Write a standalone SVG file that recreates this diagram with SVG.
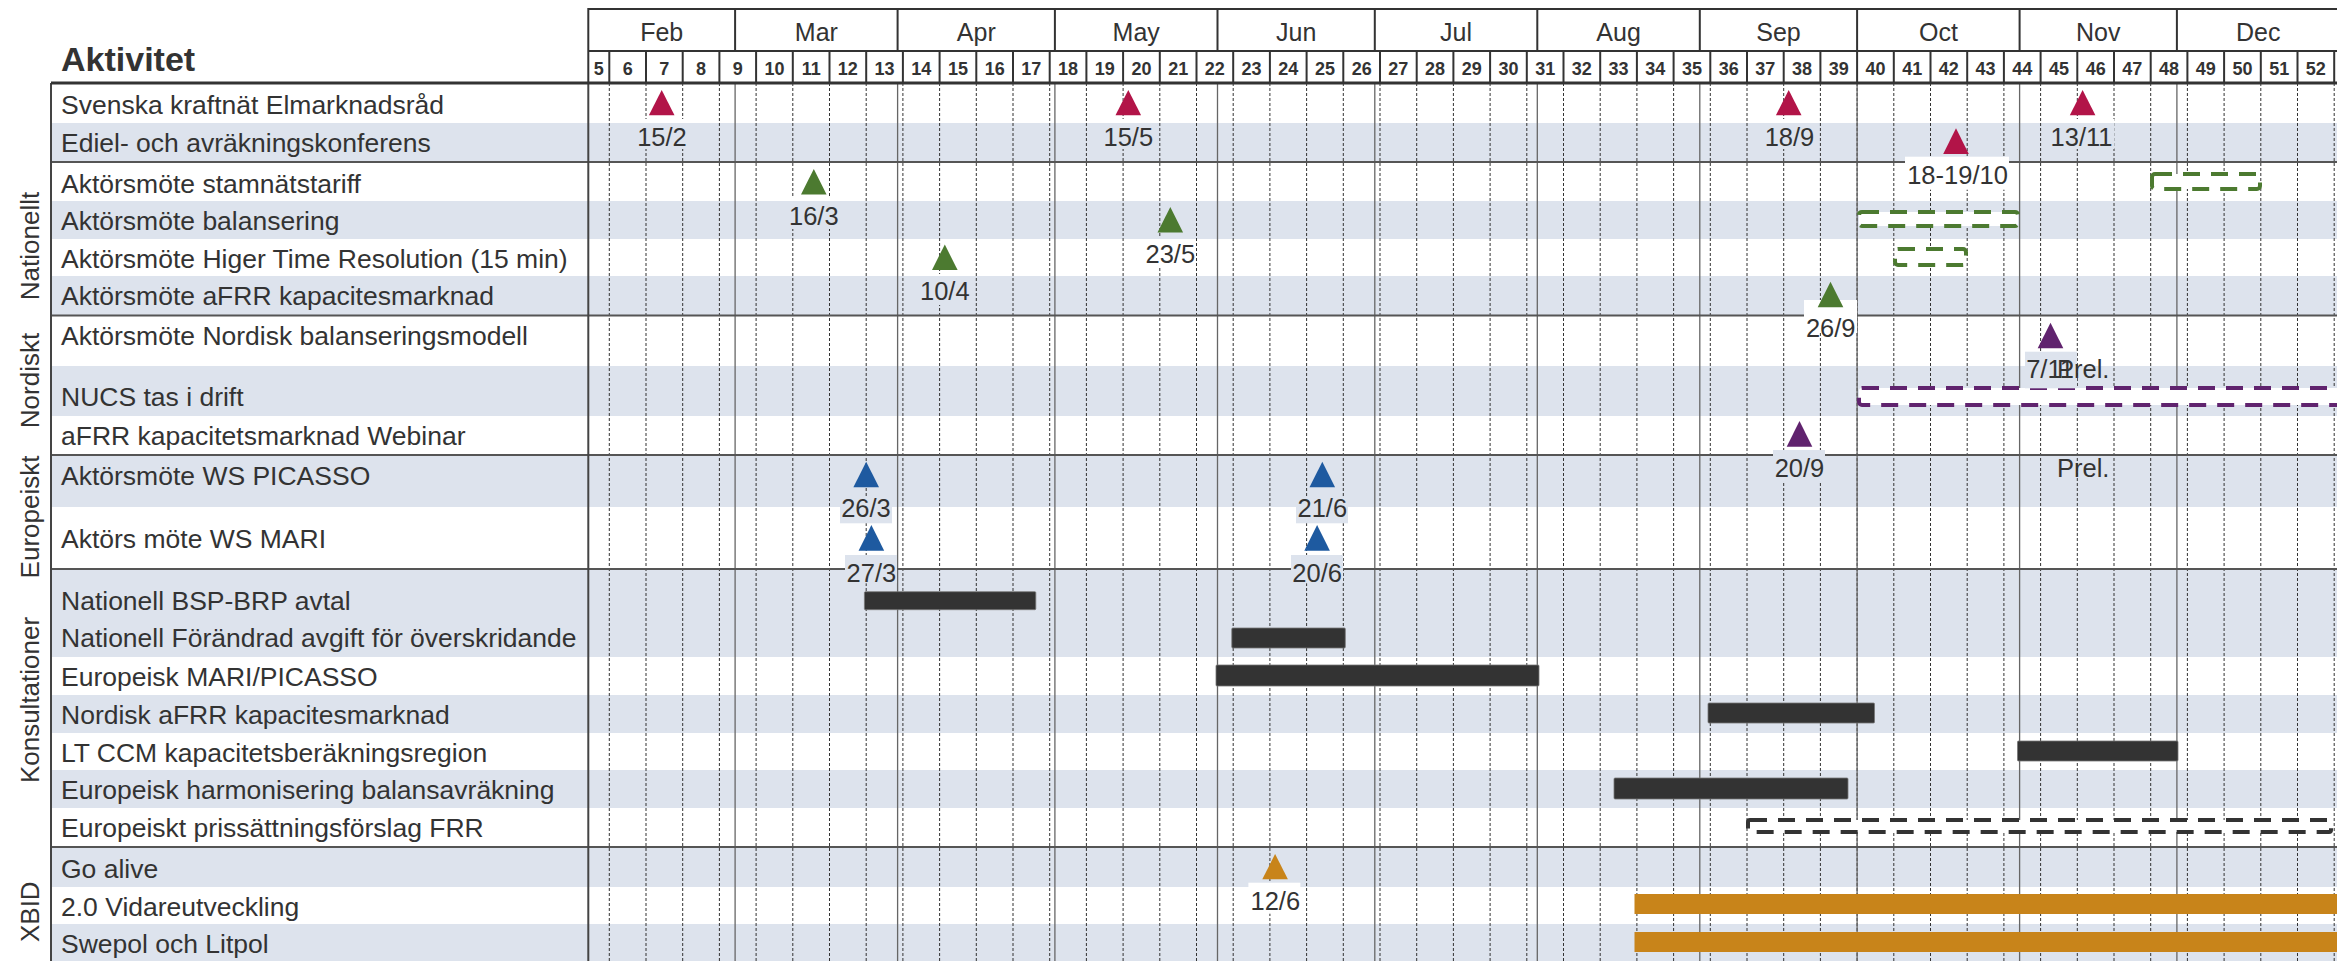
<svg xmlns="http://www.w3.org/2000/svg" width="2337" height="961" viewBox="0 0 2337 961">
<style>
text{font-family:"Liberation Sans",Arial,sans-serif;fill:#333}
.lbl{font-size:26.5px}
.cat{font-size:26px}
.mon{font-size:25px;text-anchor:middle}
.wk{font-size:18px;font-weight:bold;text-anchor:middle}
.dt{font-size:25.5px;text-anchor:middle}
.shade{fill:#dde3ed}
.wl{stroke:#333;stroke-width:1;stroke-dasharray:3 2}
.ml{stroke:#666;stroke-width:1.3}
.hl{stroke:#555;stroke-width:2}
.hb{stroke:#333;stroke-width:2;fill:none}
.bar{fill:#333;stroke:#777;stroke-width:0.8}
.obar{fill:#c8841a}
.dbox{fill:#fff;stroke-width:4;stroke-dasharray:17 11}
.red{fill:#b21448}.grn{fill:#4c7a30}.pur{fill:#60236e}.blu{fill:#1e5aa0}.org{fill:#c8841a}
.wb{fill:#fff}
</style>
<rect width="2337" height="961" fill="#fff"/>

<g id="row-shading">
<rect class="shade" x="51" y="123" width="2290" height="39"/>
<rect class="shade" x="51" y="201" width="2290" height="38"/>
<rect class="shade" x="51" y="276" width="2290" height="39"/>
<rect class="shade" x="51" y="366" width="2290" height="50"/>
<rect class="shade" x="51" y="455" width="2290" height="52"/>
<rect class="shade" x="51" y="569" width="2290" height="88"/>
<rect class="shade" x="51" y="695" width="2290" height="38"/>
<rect class="shade" x="51" y="770" width="2290" height="38"/>
<rect class="shade" x="51" y="847" width="2290" height="40"/>
<rect class="shade" x="51" y="924" width="2290" height="40"/>
</g>

<g id="week-gridlines">
<line class="wl" x1="609.3" y1="83" x2="609.3" y2="961"/><line class="wl" x1="646" y1="83" x2="646" y2="961"/><line class="wl" x1="682.7" y1="83" x2="682.7" y2="961"/><line class="wl" x1="719.4" y1="83" x2="719.4" y2="961"/><line class="wl" x1="756.1" y1="83" x2="756.1" y2="961"/><line class="wl" x1="792.8" y1="83" x2="792.8" y2="961"/><line class="wl" x1="829.5" y1="83" x2="829.5" y2="961"/><line class="wl" x1="866.2" y1="83" x2="866.2" y2="961"/><line class="wl" x1="902.9" y1="83" x2="902.9" y2="961"/><line class="wl" x1="939.6" y1="83" x2="939.6" y2="961"/><line class="wl" x1="976.3" y1="83" x2="976.3" y2="961"/><line class="wl" x1="1013" y1="83" x2="1013" y2="961"/><line class="wl" x1="1049.7" y1="83" x2="1049.7" y2="961"/><line class="wl" x1="1086.4" y1="83" x2="1086.4" y2="961"/><line class="wl" x1="1123.1" y1="83" x2="1123.1" y2="961"/><line class="wl" x1="1159.8" y1="83" x2="1159.8" y2="961"/><line class="wl" x1="1196.5" y1="83" x2="1196.5" y2="961"/><line class="wl" x1="1233.2" y1="83" x2="1233.2" y2="961"/><line class="wl" x1="1269.9" y1="83" x2="1269.9" y2="961"/><line class="wl" x1="1306.6" y1="83" x2="1306.6" y2="961"/><line class="wl" x1="1343.3" y1="83" x2="1343.3" y2="961"/><line class="wl" x1="1380" y1="83" x2="1380" y2="961"/><line class="wl" x1="1416.7" y1="83" x2="1416.7" y2="961"/><line class="wl" x1="1453.4" y1="83" x2="1453.4" y2="961"/><line class="wl" x1="1490.1" y1="83" x2="1490.1" y2="961"/><line class="wl" x1="1526.8" y1="83" x2="1526.8" y2="961"/><line class="wl" x1="1563.5" y1="83" x2="1563.5" y2="961"/><line class="wl" x1="1600.2" y1="83" x2="1600.2" y2="961"/><line class="wl" x1="1636.9" y1="83" x2="1636.9" y2="961"/><line class="wl" x1="1673.6" y1="83" x2="1673.6" y2="961"/><line class="wl" x1="1710.3" y1="83" x2="1710.3" y2="961"/><line class="wl" x1="1747" y1="83" x2="1747" y2="961"/><line class="wl" x1="1783.7" y1="83" x2="1783.7" y2="961"/><line class="wl" x1="1820.4" y1="83" x2="1820.4" y2="961"/><line class="wl" x1="1857.1" y1="83" x2="1857.1" y2="961"/><line class="wl" x1="1893.8" y1="83" x2="1893.8" y2="961"/><line class="wl" x1="1930.5" y1="83" x2="1930.5" y2="961"/><line class="wl" x1="1967.2" y1="83" x2="1967.2" y2="961"/><line class="wl" x1="2003.9" y1="83" x2="2003.9" y2="961"/><line class="wl" x1="2040.6" y1="83" x2="2040.6" y2="961"/><line class="wl" x1="2077.3" y1="83" x2="2077.3" y2="961"/><line class="wl" x1="2114" y1="83" x2="2114" y2="961"/><line class="wl" x1="2150.7" y1="83" x2="2150.7" y2="961"/><line class="wl" x1="2187.4" y1="83" x2="2187.4" y2="961"/><line class="wl" x1="2224.1" y1="83" x2="2224.1" y2="961"/><line class="wl" x1="2260.8" y1="83" x2="2260.8" y2="961"/><line class="wl" x1="2297.5" y1="83" x2="2297.5" y2="961"/><line class="wl" x1="2334.2" y1="83" x2="2334.2" y2="961"/>
</g>

<g id="month-gridlines">
<line class="ml" x1="735.1" y1="83" x2="735.1" y2="961"/><line class="ml" x1="897.6" y1="83" x2="897.6" y2="961"/><line class="ml" x1="1054.9" y1="83" x2="1054.9" y2="961"/><line class="ml" x1="1217.5" y1="83" x2="1217.5" y2="961"/><line class="ml" x1="1374.8" y1="83" x2="1374.8" y2="961"/><line class="ml" x1="1537.3" y1="83" x2="1537.3" y2="961"/><line class="ml" x1="1699.8" y1="83" x2="1699.8" y2="961"/><line class="ml" x1="1857.1" y1="83" x2="1857.1" y2="961"/><line class="ml" x1="2019.6" y1="83" x2="2019.6" y2="961"/><line class="ml" x1="2176.9" y1="83" x2="2176.9" y2="961"/>
</g>

<g id="section-lines">
<line class="hl" x1="51" y1="162" x2="2337" y2="162"/>
<line class="hl" x1="51" y1="315.5" x2="2337" y2="315.5"/>
<line class="hl" x1="51" y1="455" x2="2337" y2="455"/>
<line class="hl" x1="51" y1="569" x2="2337" y2="569"/>
<line class="hl" x1="51" y1="847" x2="2337" y2="847"/>
<line stroke="#444" stroke-width="2" x1="51" y1="83" x2="51" y2="961"/>
<line stroke="#444" stroke-width="2" x1="588.3" y1="83" x2="588.3" y2="961"/>
</g>

<g id="header">
<path class="hb" d="M588.3 83V9H2340M588.3 51H2340"/>
<path class="hb" d="M735.1 9V51M897.6 9V51M1054.9 9V51M1217.5 9V51M1374.8 9V51M1537.3 9V51M1699.8 9V51M1857.1 9V51M2019.6 9V51M2176.9 9V51"/>
<path class="hb" d="M609.3 51V83M646 51V83M682.7 51V83M719.4 51V83M756.1 51V83M792.8 51V83M829.5 51V83M866.2 51V83M902.9 51V83M939.6 51V83M976.3 51V83M1013 51V83M1049.7 51V83M1086.4 51V83M1123.1 51V83M1159.8 51V83M1196.5 51V83M1233.2 51V83M1269.9 51V83M1306.6 51V83M1343.3 51V83M1380 51V83M1416.7 51V83M1453.4 51V83M1490.1 51V83M1526.8 51V83M1563.5 51V83M1600.2 51V83M1636.9 51V83M1673.6 51V83M1710.3 51V83M1747 51V83M1783.7 51V83M1820.4 51V83M1857.1 51V83M1893.8 51V83M1930.5 51V83M1967.2 51V83M2003.9 51V83M2040.6 51V83M2077.3 51V83M2114 51V83M2150.7 51V83M2187.4 51V83M2224.1 51V83M2260.8 51V83M2297.5 51V83M2334.2 51V83"/>
<line stroke="#333" stroke-width="3" x1="51" y1="83" x2="2337" y2="83"/>
<text x="61" y="71" style="font-size:34px;font-weight:bold">Aktivitet</text>
<text class="mon" x="661.7" y="40.7">Feb</text><text class="mon" x="816.4" y="40.7">Mar</text><text class="mon" x="976.3" y="40.7">Apr</text><text class="mon" x="1136.2" y="40.7">May</text><text class="mon" x="1296.2" y="40.7">Jun</text><text class="mon" x="1456.1" y="40.7">Jul</text><text class="mon" x="1618.6" y="40.7">Aug</text><text class="mon" x="1778.5" y="40.7">Sep</text><text class="mon" x="1938.4" y="40.7">Oct</text><text class="mon" x="2098.3" y="40.7">Nov</text><text class="mon" x="2258.2" y="40.7">Dec</text>
<g class="wkrow">
<text class="wk" x="598.8" y="75">5</text><text class="wk" x="627.65" y="75">6</text><text class="wk" x="664.35" y="75">7</text><text class="wk" x="701.05" y="75">8</text><text class="wk" x="737.75" y="75">9</text><text class="wk" x="774.45" y="75">10</text><text class="wk" x="811.15" y="75">11</text><text class="wk" x="847.85" y="75">12</text><text class="wk" x="884.55" y="75">13</text><text class="wk" x="921.25" y="75">14</text><text class="wk" x="957.95" y="75">15</text><text class="wk" x="994.65" y="75">16</text><text class="wk" x="1031.35" y="75">17</text><text class="wk" x="1068.05" y="75">18</text><text class="wk" x="1104.75" y="75">19</text><text class="wk" x="1141.45" y="75">20</text><text class="wk" x="1178.15" y="75">21</text><text class="wk" x="1214.85" y="75">22</text><text class="wk" x="1251.55" y="75">23</text><text class="wk" x="1288.25" y="75">24</text><text class="wk" x="1324.95" y="75">25</text><text class="wk" x="1361.65" y="75">26</text><text class="wk" x="1398.35" y="75">27</text><text class="wk" x="1435.05" y="75">28</text><text class="wk" x="1471.75" y="75">29</text><text class="wk" x="1508.45" y="75">30</text><text class="wk" x="1545.15" y="75">31</text><text class="wk" x="1581.85" y="75">32</text><text class="wk" x="1618.55" y="75">33</text><text class="wk" x="1655.25" y="75">34</text><text class="wk" x="1691.95" y="75">35</text><text class="wk" x="1728.65" y="75">36</text><text class="wk" x="1765.35" y="75">37</text><text class="wk" x="1802.05" y="75">38</text><text class="wk" x="1838.75" y="75">39</text><text class="wk" x="1875.45" y="75">40</text><text class="wk" x="1912.15" y="75">41</text><text class="wk" x="1948.85" y="75">42</text><text class="wk" x="1985.55" y="75">43</text><text class="wk" x="2022.25" y="75">44</text><text class="wk" x="2058.95" y="75">45</text><text class="wk" x="2095.65" y="75">46</text><text class="wk" x="2132.35" y="75">47</text><text class="wk" x="2169.05" y="75">48</text><text class="wk" x="2205.75" y="75">49</text><text class="wk" x="2242.45" y="75">50</text><text class="wk" x="2279.15" y="75">51</text><text class="wk" x="2315.85" y="75">52</text>
</g>
</g>

<g id="categories">
<text class="cat" text-anchor="middle" transform="translate(38.5 246) rotate(-90)">Nationellt</text>
<text class="cat" text-anchor="middle" transform="translate(38.5 380.5) rotate(-90)">Nordiskt</text>
<text class="cat" text-anchor="middle" transform="translate(38.5 517) rotate(-90)">Europeiskt</text>
<text class="cat" text-anchor="middle" transform="translate(38.5 700) rotate(-90)">Konsultationer</text>
<text class="cat" text-anchor="middle" transform="translate(38.5 911.7) rotate(-90)">XBID</text>
</g>

<g id="activities">
<text class="lbl" x="61" y="114">Svenska kraftnät Elmarknadsråd</text>
<text class="lbl" x="61" y="152">Ediel- och avräkningskonferens</text>
<text class="lbl" x="61" y="193">Aktörsmöte stamnätstariff</text>
<text class="lbl" x="61" y="230">Aktörsmöte balansering</text>
<text class="lbl" x="61" y="268">Aktörsmöte Higer Time Resolution (15 min)</text>
<text class="lbl" x="61" y="305">Aktörsmöte aFRR kapacitesmarknad</text>
<text class="lbl" x="61" y="345">Aktörsmöte Nordisk balanseringsmodell</text>
<text class="lbl" x="61" y="406">NUCS tas i drift</text>
<text class="lbl" x="61" y="444.5">aFRR kapacitetsmarknad Webinar</text>
<text class="lbl" x="61" y="485">Aktörsmöte WS PICASSO</text>
<text class="lbl" x="61" y="548">Aktörs möte WS MARI</text>
<text class="lbl" x="61" y="610">Nationell BSP-BRP avtal</text>
<text class="lbl" x="61" y="647">Nationell Förändrad avgift för överskridande</text>
<text class="lbl" x="61" y="686">Europeisk MARI/PICASSO</text>
<text class="lbl" x="61" y="723.5">Nordisk aFRR kapacitesmarknad</text>
<text class="lbl" x="61" y="761.5">LT CCM kapacitetsberäkningsregion</text>
<text class="lbl" x="61" y="799">Europeisk harmonisering balansavräkning</text>
<text class="lbl" x="61" y="836.5">Europeiskt prissättningsförslag FRR</text>
<text class="lbl" x="61" y="877.5">Go alive</text>
<text class="lbl" x="61" y="916">2.0 Vidareutveckling</text>
<text class="lbl" x="61" y="952.5">Swepol och Litpol</text>
</g>

<g id="bars">
<rect class="bar" x="864.4" y="591.7" width="171.4" height="18" rx="1"/>
<rect class="bar" x="1231.8" y="628" width="113.5" height="20" rx="1"/>
<rect class="bar" x="1216" y="665" width="323" height="21" rx="1"/>
<rect class="bar" x="1708" y="703" width="166.5" height="20" rx="1"/>
<rect class="bar" x="2017.5" y="741" width="160.5" height="20" rx="1"/>
<rect class="bar" x="1614" y="778" width="234" height="21" rx="1"/>
<rect class="obar" x="1634.5" y="894" width="710" height="20"/>
<rect class="obar" x="1634.5" y="932" width="710" height="20"/>
</g>

<g id="dashed-boxes">
<rect class="dbox" stroke="#4c7a30" x="2152" y="174" width="108" height="15" rx="3"/>
<rect class="dbox" stroke="#4c7a30" x="1859" y="212" width="159" height="14" rx="3"/>
<rect class="dbox" stroke="#4c7a30" x="1895" y="249" width="71" height="16" rx="3"/>
<rect class="dbox" stroke="#60236e" x="1859" y="388" width="490" height="17" rx="3"/>
<rect class="dbox" stroke="#333" x="1748" y="820" width="583" height="12" rx="2"/>
</g>

<g id="label-boxes">
<rect class="wb" x="636" y="119" width="52" height="4"/><rect class="shade" x="636" y="123" width="52" height="26"/>
<rect class="wb" x="1102" y="119" width="52" height="4"/><rect class="shade" x="1102" y="123" width="52" height="26"/>
<rect class="wb" x="1763" y="119" width="52" height="4"/><rect class="shade" x="1763" y="123" width="52" height="26"/>
<rect class="wb" x="2049.5" y="119" width="65" height="4"/><rect class="shade" x="2049.5" y="123" width="65" height="26"/>
<rect class="wb" x="1905" y="156.7" width="104" height="33"/>
<rect class="wb" x="788" y="198" width="52" height="3"/><rect class="shade" x="788" y="201" width="52" height="28"/>
<rect class="shade" x="1144" y="236" width="52" height="3"/><rect class="wb" x="1144" y="239" width="52" height="28"/>
<rect class="wb" x="919" y="274" width="52" height="2"/><rect class="shade" x="919" y="276" width="52" height="29"/>
<rect class="wb" x="1804" y="300" width="53" height="33"/>
<rect class="shade" x="2025" y="351.7" width="52" height="36.6"/>
<rect class="shade" x="1773" y="450" width="52" height="32"/>
<rect class="shade" x="840" y="496.7" width="52" height="26.6"/>
<rect class="shade" x="1296" y="496.7" width="52" height="26.6"/>
<rect class="shade" x="845" y="555" width="52" height="28.3"/>
<rect class="shade" x="1291" y="555" width="52" height="28.3"/>
<rect class="wb" x="1248.4" y="882.7" width="52" height="31"/>
</g>

<g id="milestones">
<g id="m-15-2"><polygon class="red" points="648.9,115.3 674.5,115.3 661.7,90"/><text class="dt" x="662" y="145.7">15/2</text></g>
<g id="m-15-5"><polygon class="red" points="1115.5,115.3 1141.1,115.3 1128.3,90"/><text class="dt" x="1128.3" y="145.7">15/5</text></g>
<g id="m-18-9"><polygon class="red" points="1775.9,115.3 1801.5,115.3 1788.7,90"/><text class="dt" x="1789.5" y="145.7">18/9</text></g>
<g id="m-13-11"><polygon class="red" points="2069.8,115.3 2095.4,115.3 2082.6,90"/><text class="dt" x="2081.5" y="145.7">13/11</text></g>
<g id="m-18-19-10"><polygon class="red" points="1943.2,154 1968.8,154 1956,128.3"/><text class="dt" x="1957.5" y="184">18-19/10</text></g>
<g id="m-16-3"><polygon class="grn" points="801,194.5 826.6,194.5 813.8,169"/><text class="dt" x="813.8" y="224.5">16/3</text></g>
<g id="m-23-5"><polygon class="grn" points="1157.5,232.5 1183.1,232.5 1170.3,207"/><text class="dt" x="1170.3" y="262.5">23/5</text></g>
<g id="m-10-4"><polygon class="grn" points="932,270 957.6,270 944.8,244.5"/><text class="dt" x="944.8" y="300">10/4</text></g>
<g id="m-26-9"><polygon class="grn" points="1817.7,307.3 1843.3,307.3 1830.5,281.7"/><text class="dt" x="1830.7" y="336.7">26/9</text></g>
<g id="m-7-11"><polygon class="pur" points="2037.7,348.3 2063.3,348.3 2050.5,322.7"/><text class="dt" x="2050" y="378.3">7/11</text></g>
<text class="dt" x="2057" y="378.3" style="text-anchor:start">Prel.</text>
<g id="m-20-9"><polygon class="pur" points="1786.7,446.7 1812.3,446.7 1799.5,421"/><text class="dt" x="1799.5" y="476.7">20/9</text></g>
<text class="dt" x="2057" y="476.7" style="text-anchor:start">Prel.</text>
<g id="m-26-3"><polygon class="blu" points="853.4,487.3 879,487.3 866.2,461.7"/><text class="dt" x="866" y="517.3">26/3</text></g>
<g id="m-21-6"><polygon class="blu" points="1309.5,487.3 1335.1,487.3 1322.3,461.7"/><text class="dt" x="1322.3" y="517.3">21/6</text></g>
<g id="m-27-3"><polygon class="blu" points="858.6,550.7 884.2,550.7 871.4,525"/><text class="dt" x="871.4" y="581.7">27/3</text></g>
<g id="m-20-6"><polygon class="blu" points="1304.3,550.7 1329.9,550.7 1317.1,525"/><text class="dt" x="1317.1" y="581.7">20/6</text></g>
<g id="m-12-6"><polygon class="org" points="1262.3,879.3 1287.9,879.3 1275.1,854"/><text class="dt" x="1275.3" y="910">12/6</text></g>
</g>
</svg>
